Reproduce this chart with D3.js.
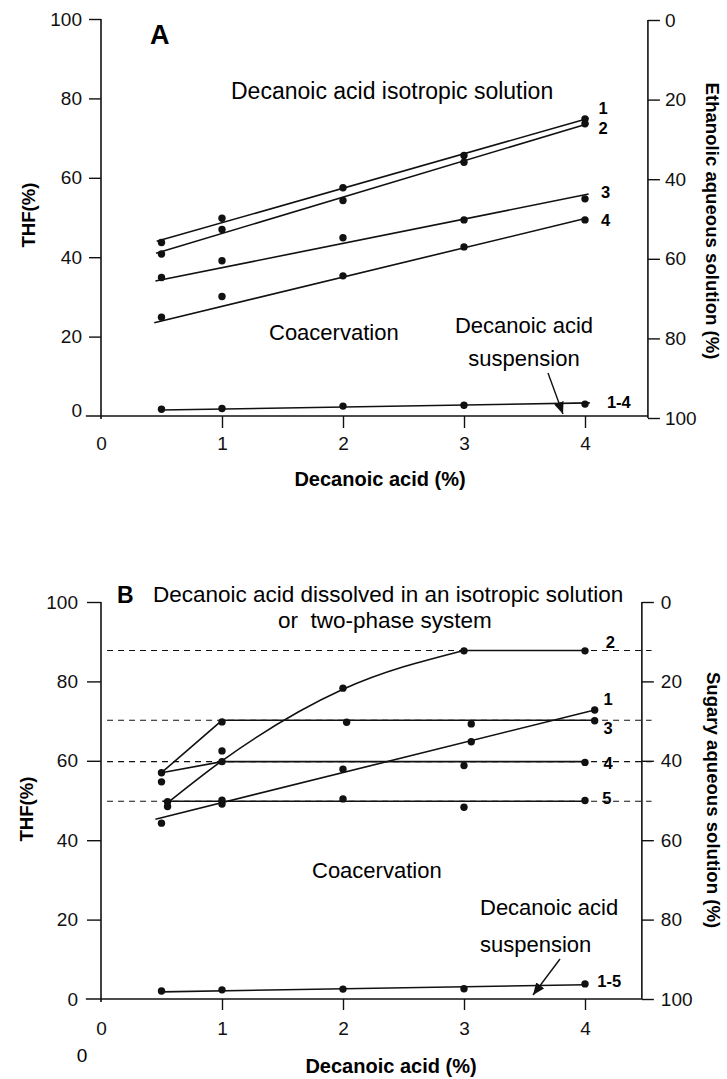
<!DOCTYPE html>
<html>
<head>
<meta charset="utf-8">
<script src="https://cdn.jsdelivr.net/npm/d3@7"></script>
<style>
  body { margin: 0; background: #fff; }
  svg { font-family: "Liberation Sans", Arial, sans-serif; }
</style>
</head>
<body>
<div id="chart"></div>
<script>
// ticks
const xTicks = [0, 1, 2, 3, 4]
const yTicks = [0, 20, 40, 60, 80, 100]
const rightTicks = [0, 20, 40, 60, 80, 100]

// panel A - measured points (decanoic acid %, THF %)
const decanoicA = [0.5, 1, 2, 3, 4]
const thfA1 = [43.7, 49.8, 57.5, 65.6, 74.8]
const thfA2 = [40.8, 47.0, 54.3, 63.9, 73.6]
const thfA3 = [34.9, 39.1, 44.9, 49.4, 54.7]
const thfA4 = [24.9, 30.1, 35.3, 42.6, 49.4]
const thfA14 = [1.7, 1.9, 2.5, 2.7, 3.0]
// panel A - drawn lines
const fitA1 = [[0.46, 44.0], [4.03, 75.0]]
const fitA2 = [[0.455, 41.0], [4.03, 73.7]]
const fitA3 = [[0.45, 34.0], [4.03, 55.9]]
const fitA4 = [[0.44, 23.5], [4.01, 49.8]]
const fitA14 = [[0.5, 1.5], [4.04, 3.3]]
const labelsA = ['1', '2', '3', '4', '1-4']
const labelXA = [4.15, 4.15, 4.17, 4.17, 4.28]
const labelYA = [77.6, 72.6, 56.5, 49.4, 3.4]

// panel B - measured points
const decanoicB1 = [0.5, 1, 2, 3.06, 4.08]
const thfB1 = [44.3, 49.1, 57.9, 64.8, 72.8]
const decanoicB2 = [0.55, 1, 2, 3, 4]
const thfB2 = [48.5, 62.5, 78.3, 87.7, 87.7]
const decanoicB3 = [0.5, 1, 2.03, 3.06, 4.08]
const thfB3 = [57.0, 69.8, 69.7, 69.3, 70.1]
const decanoicB4 = [0.5, 1, 3, 4]
const thfB4 = [54.7, 59.8, 58.8, 59.6]
const decanoicB5 = [0.55, 1, 2, 3, 4]
const thfB5 = [49.7, 50.1, 50.4, 48.3, 50.0]
const decanoicB15 = [0.5, 1, 2, 3, 4]
const thfB15 = [2.0, 2.3, 2.5, 2.6, 3.8]
// panel B - drawn lines
const fitB1 = [[0.45, 45.3], [4.08, 72.8]]
const fitB2curve = [[0.55, 49.4], [1, 60.0], [2, 78.0], [3, 87.8]]
const fitB2flat = [[3, 87.8], [4, 87.8]]
const fitB3 = [[0.5, 57.0], [1, 70.2], [4.08, 70.2]]
const fitB4 = [[0.5, 57.0], [1, 59.8], [4, 59.8]]
const fitB5 = [[0.51, 49.8], [4, 49.8]]
const fitB15 = [[0.5, 1.8], [4, 3.6]]
const dashLevelsB = [87.8, 70.2, 59.8, 49.8]
const labelsB = ['2', '1', '3', '4', '5', '1-5']
const labelXB = [4.21, 4.19, 4.19, 4.19, 4.18, 4.2]
const labelYB = [89.9, 75.6, 68.3, 59.4, 50.6, 4.4]

const width = 727
const height = 1079
const ink = '#111'

const svg = d3.select('#chart')
  .append('svg')
  .attr('width', width)
  .attr('height', height)

// arrow head
svg.append('defs').append('marker')
  .attr('id', 'arrow')
  .attr('viewBox', '0 0 12 10')
  .attr('refX', 12)
  .attr('refY', 5)
  .attr('markerWidth', 12)
  .attr('markerHeight', 10)
  .attr('markerUnits', 'userSpaceOnUse')
  .attr('orient', 'auto')
  .append('path')
  .attr('d', 'M0,0 L12,5 L0,10 Z')
  .attr('fill', ink)

const x = d3.scaleLinear().domain([0, 4]).range([101, 585])

function drawFrame(g, y, yR, o) {
  const rx = x(o.rightAt)

  // x axis line (runs a bit left of the y axis, up to the right axis)
  g.append('line')
    .attr('x1', x(-0.125)).attr('x2', rx)
    .attr('y1', y(0)).attr('y2', y(0))
    .attr('stroke', ink).attr('stroke-width', 1.6)

  const xAxis = d3.axisBottom(x).tickValues(xTicks)
    .tickFormat(d3.format('d'))
    .tickSize(o.xTick).tickPadding(o.xPad)
  g.append('g')
    .attr('transform', `translate(0, ${y(0)})`)
    .call(xAxis)
    .call(a => a.select('.domain').remove())
    .call(a => a.selectAll('.tick').filter(d => d === 0).select('line').remove())

  // left axis
  g.append('line')
    .attr('x1', x(0)).attr('x2', x(0))
    .attr('y1', y(100)).attr('y2', y(0) + 3)
    .attr('stroke', ink).attr('stroke-width', 1.6)
  const yAxis = d3.axisLeft(y).tickValues(yTicks)
    .tickSize(o.yTick).tickPadding(o.yPad)
  g.append('g')
    .attr('transform', `translate(${x(0)}, 0)`)
    .call(yAxis)
    .call(a => a.select('.domain').remove())
    .call(a => a.selectAll('.tick').filter(d => d === 0).select('line').remove())
    .call(a => a.selectAll('.tick').filter(d => d === 0).select('text').attr('dy', o.zeroDy))

  // right axis (reversed)
  g.append('line')
    .attr('x1', rx).attr('x2', rx)
    .attr('y1', yR(0)).attr('y2', yR(100))
    .attr('stroke', ink).attr('stroke-width', 1.6)
  const rAxis = d3.axisRight(yR).tickValues(rightTicks)
    .tickSize(12).tickPadding(o.rPad)
  g.append('g')
    .attr('transform', `translate(${rx}, 0)`)
    .call(rAxis)
    .call(a => a.select('.domain').remove())

  g.selectAll('.tick line').attr('stroke', ink).attr('stroke-width', 1.4)
  g.selectAll('.tick text')
    .attr('fill', ink)
    .style('font-size', '19px')
    .style('font-family', '"Liberation Sans", Arial, sans-serif')

  // axis titles
  g.append('text')
    .text('Decanoic acid (%)')
    .attr('x', o.xTitleX).attr('y', o.xTitleY)
    .attr('text-anchor', 'middle')
    .style('font-size', '20px').style('font-weight', 'bold')

  g.append('text')
    .text('THF(%)')
    .attr('transform', `translate(${o.leftTitleX}, ${o.leftTitleY}) rotate(-90)`)
    .attr('text-anchor', 'middle')
    .style('font-size', '18.6px').style('font-weight', 'bold')

  g.append('text')
    .text(o.rightTitle)
    .attr('transform', `translate(${o.rightTitleX}, ${o.rightTitleY}) rotate(90)`)
    .attr('text-anchor', 'middle')
    .style('font-size', '18.6px').style('font-weight', 'bold')
}

function drawPoints(g, y, xs, ys) {
  g.append('g')
    .selectAll('circle')
    .data(xs.map((d, i) => [d, ys[i]]))
    .enter()
    .append('circle')
    .attr('cx', d => x(d[0]))
    .attr('cy', d => y(d[1]))
    .attr('r', 3.7)
    .attr('fill', ink)
}

function drawLine(g, y, pts, curve) {
  const line = d3.line()
    .x(d => x(d[0]))
    .y(d => y(d[1]))
    .curve(curve || d3.curveLinear)
  g.append('path')
    .attr('d', line(pts))
    .attr('fill', 'none')
    .attr('stroke', ink)
    .attr('stroke-width', 1.6)
}

function drawLabels(g, y, labels, lx, ly) {
  g.append('g')
    .selectAll('text')
    .data(labels)
    .enter()
    .append('text')
    .text(d => d)
    .attr('x', (d, i) => x(lx[i]))
    .attr('y', (d, i) => y(ly[i]))
    .attr('dy', '0.36em')
    .attr('text-anchor', 'middle')
    .style('font-size', '16.5px')
    .style('font-weight', 'bold')
}

// ---------------- panel A ----------------
const yA = d3.scaleLinear().domain([0, 100]).range([416, 19])
const yAR = d3.scaleLinear().domain([0, 100]).range([20, 418])
const gA = svg.append('g')

drawFrame(gA, yA, yAR, {
  rightAt: 4.52, xTick: 12, xPad: 9, yTick: 12, yPad: 7, rPad: 5, zeroDy: '0.05em',
  xTitleX: 380, xTitleY: 486, leftTitleX: 35, leftTitleY: 215,
  rightTitle: 'Ethanolic aqueous solution (%)', rightTitleX: 706, rightTitleY: 221
})

const seriesA = [thfA1, thfA2, thfA3, thfA4, thfA14]
const fitsA = [fitA1, fitA2, fitA3, fitA4, fitA14]
fitsA.forEach(f => drawLine(gA, yA, f))
seriesA.forEach(s => drawPoints(gA, yA, decanoicA, s))
drawLabels(gA, yA, labelsA, labelXA, labelYA)

gA.append('text').text('A')
  .attr('x', 150).attr('y', 44)
  .style('font-size', '27px').style('font-weight', 'bold')

gA.append('text').text('Decanoic acid isotropic solution')
  .attr('x', 231).attr('y', 99)
  .style('font-size', '23px')

gA.append('text').text('Coacervation')
  .attr('x', 269).attr('y', 340)
  .style('font-size', '22px')

gA.append('text').text('Decanoic acid')
  .attr('x', 524).attr('y', 333)
  .attr('text-anchor', 'middle')
  .style('font-size', '22px')
gA.append('text').text('suspension')
  .attr('x', 524).attr('y', 366)
  .attr('text-anchor', 'middle')
  .style('font-size', '22px')

gA.append('line')
  .attr('x1', 548).attr('y1', 373)
  .attr('x2', 563).attr('y2', 414)
  .attr('stroke', ink).attr('stroke-width', 1.4)
  .attr('marker-end', 'url(#arrow)')

// ---------------- panel B ----------------
const yB = d3.scaleLinear().domain([0, 100]).range([999, 602])
const yBR = d3.scaleLinear().domain([0, 100]).range([602, 999])
const gB = svg.append('g')

// dashed boundaries
gB.append('g')
  .selectAll('line')
  .data(dashLevelsB)
  .enter()
  .append('line')
  .attr('x1', x(0.05)).attr('x2', x(4.55))
  .attr('y1', d => yB(d)).attr('y2', d => yB(d))
  .attr('stroke', ink).attr('stroke-width', 1.1)
  .attr('stroke-dasharray', '6,5')

drawFrame(gB, yB, yBR, {
  rightAt: 4.47, xTick: 11, xPad: 12, yTick: 14, yPad: 9, rPad: 7, zeroDy: '0.32em',
  xTitleX: 391, xTitleY: 1073, leftTitleX: 33, leftTitleY: 809,
  rightTitle: 'Sugary aqueous solution (%)', rightTitleX: 707, rightTitleY: 800
})

drawLine(gB, yB, fitB1)
drawLine(gB, yB, fitB2curve, d3.curveMonotoneX)
drawLine(gB, yB, fitB2flat)
drawLine(gB, yB, fitB3)
drawLine(gB, yB, fitB4)
drawLine(gB, yB, fitB5)
drawLine(gB, yB, fitB15)

drawPoints(gB, yB, decanoicB1, thfB1)
drawPoints(gB, yB, decanoicB2, thfB2)
drawPoints(gB, yB, decanoicB3, thfB3)
drawPoints(gB, yB, decanoicB4, thfB4)
drawPoints(gB, yB, decanoicB5, thfB5)
drawPoints(gB, yB, decanoicB15, thfB15)
drawLabels(gB, yB, labelsB, labelXB, labelYB)

gB.append('text').text('B')
  .attr('x', 117).attr('y', 603)
  .style('font-size', '23px').style('font-weight', 'bold')

gB.append('text').text('Decanoic acid dissolved in an isotropic solution')
  .attr('x', 153).attr('y', 602)
  .style('font-size', '22.5px')
gB.append('text').text('or  two-phase system')
  .attr('x', 278).attr('y', 628)
  .style('white-space', 'pre')
  .style('font-size', '22.5px')

gB.append('text').text('Coacervation')
  .attr('x', 312).attr('y', 878)
  .style('font-size', '22px')

gB.append('text').text('Decanoic acid')
  .attr('x', 480).attr('y', 915)
  .style('font-size', '22px')
gB.append('text').text('suspension')
  .attr('x', 480).attr('y', 952)
  .style('font-size', '22px')

gB.append('line')
  .attr('x1', 560).attr('y1', 959)
  .attr('x2', 533).attr('y2', 995)
  .attr('stroke', ink).attr('stroke-width', 1.4)
  .attr('marker-end', 'url(#arrow)')

// stray zero under the B axis
gB.append('text').text('0')
  .attr('x', 82).attr('y', 1055)
  .attr('dy', '0.35em')
  .attr('text-anchor', 'middle')
  .style('font-size', '19px')
</script>
</body>
</html>
